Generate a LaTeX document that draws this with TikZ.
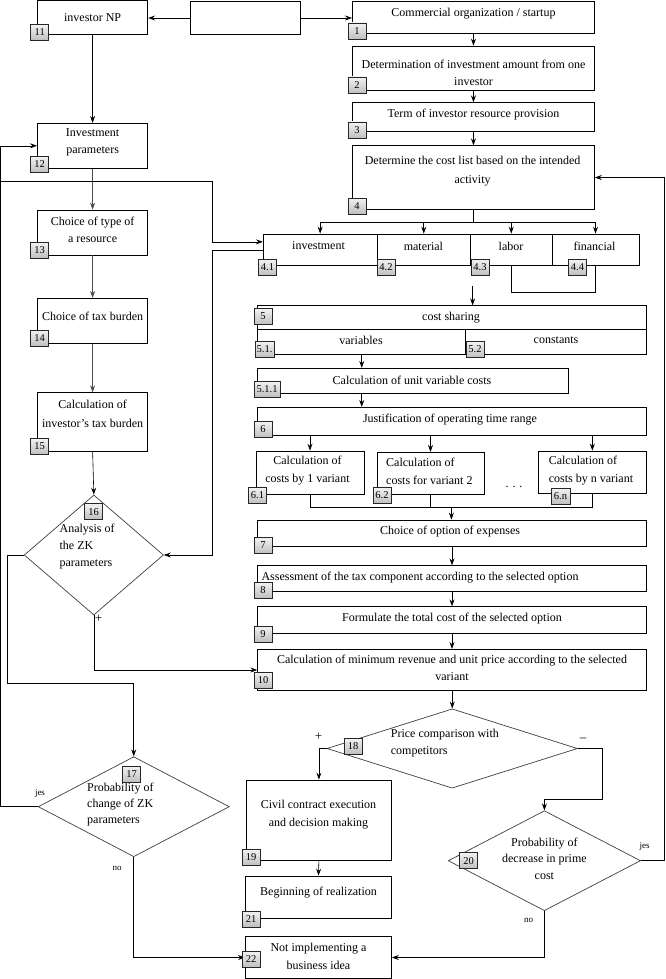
\documentclass[tikz,border=0pt]{standalone}
\usepackage{fontspec}
\setmainfont{Liberation Serif}
\usetikzlibrary{arrows.meta,shapes.geometric,fit,calc}
\begin{document}
\begin{tikzpicture}[x=1pt,y=-1pt,
  box/.style={draw=black, line width=0.8pt, inner sep=0pt},
  dia/.style={draw=black!75, line width=0.7pt, diamond, inner sep=0pt},
  txt/.style={inner sep=0pt, align=center, font=\fontsize{12}{17}\selectfont},
  txl/.style={inner sep=0pt, align=left, font=\fontsize{12}{17}\selectfont},
  small/.style={inner sep=0pt, font=\fontsize{9}{9}\selectfont},
  badge/.style={draw=black!85, line width=0.6pt, top color=gray!10, bottom color=gray!50,
    minimum width=18pt, minimum height=16pt, inner sep=0.5pt, font=\fontsize{10.5}{10.5}\selectfont},
  arr/.style={-{Stealth[length=7pt,width=5pt,inset=2.5pt]}, line width=0.6pt},
  ln/.style={line width=0.6pt}]
\useasboundingbox (0,0) rectangle (665,979);
\fill[white] (0,0) rectangle (665,979);

% ---------- boxes ----------
\node[box, fit={(37.4,0.5)(147.8,34.3)}] (b11) {};
\node[box, fit={(190,1.7)(300.6,34.3)}] (b0) {};
\node[box, fit={(352.4,1.7)(594.5,33.3)}] (b1) {};
\node[box, fit={(352.4,46)(594.5,90)}] (b2) {};
\node[box, fit={(352.4,102.7)(594.5,131)}] (b3) {};
\node[box, fit={(352.4,145.7)(594.5,209.3)}] (b4) {};
\node[box, fit={(37.4,123.3)(147.8,168.3)}] (b12) {};
\node[box, fit={(37.4,210)(147.8,255)}] (b13) {};
\node[box, fit={(37.4,298.3)(147.8,343.3)}] (b14) {};
\node[box, fit={(37.4,392.7)(147.8,451)}] (b15) {};
\node[box, fit={(263.3,234)(377,265.7)}] (b41) {};
\node[box, fit={(377,234)(470.5,265.7)}] (b42) {};
\node[box, fit={(470.5,234)(552,265.7)}] (b43) {};
\node[box, fit={(552,234)(639,265.7)}] (b44) {};
\node[box, fit={(257.7,305.7)(646.3,329.3)}] (b5) {};
\node[box, fit={(257.7,329.3)(465.8,354)}] (b51) {};
\node[box, fit={(465.8,329.3)(646.3,354)}] (b52) {};
\node[box, fit={(257.7,368.3)(568,393.3)}] (b511) {};
\node[box, fit={(257.7,407.3)(646.3,435)}] (b6) {};
\node[box, fit={(256,451)(364,494.3)}] (b61) {};
\node[box, fit={(377,452.3)(484,494.3)}] (b62) {};
\node[box, fit={(538.4,451)(646.3,493.3)}] (b6n) {};
\node[box, fit={(257.7,520)(646.3,546.7)}] (b7) {};
\node[box, fit={(257.7,565.7)(646.3,591.7)}] (b8) {};
\node[box, fit={(257.7,606.7)(646.3,633.3)}] (b9) {};
\node[box, fit={(257.7,649.3)(646.3,690.7)}] (b10) {};
\node[box, fit={(246.3,780)(391.5,860)}] (b19) {};
\node[box, fit={(245.4,876)(391.5,918.3)}] (b21) {};
\node[box, fit={(245.4,936.7)(391.5,978.3)}] (b22) {};

% ---------- diamonds ----------
\node[dia, minimum width=139.3pt, minimum height=120pt] (d16) at (93.85,555) {};
\node[dia, minimum width=191.1pt, minimum height=100pt] (d17) at (133.75,806.7) {};
\node[dia, minimum width=250.5pt, minimum height=79.3pt] (d18) at (452.2,748.5) {};
\node[dia, minimum width=192.3pt, minimum height=100pt] (d20) at (544.4,860.7) {};

% ---------- texts ----------
\node[txt] (t11) at (92.6,17.5) {investor NP};
\node[txt] (t1) at (473.5,14) {Commercial organization / startup};
\node[txt] (t2) at (473.5,72.5) {Determination of investment amount from one\\investor};
\node[txt] (t3) at (473.5,114.5) {Term of investor resource provision};
\node[txt, font=\fontsize{12}{19}\selectfont] (t4) at (472.6,171) {Determine the cost list based on the intended\\activity};
\node[txt] (t12) at (92.6,142) {Investment\\parameters};
\node[txt] (t13) at (92.6,230) {Choice of type of\\a resource};
\node[txt] (t14) at (92.6,316) {Choice of tax burden};
\node[txt, font=\fontsize{12}{19}\selectfont] (t15) at (92.6,414) {Calculation of\\investor's tax burden};
\node[txt] (t41) at (318.5,246) {investment};
\node[txt] (t42) at (423.4,246) {material};
\node[txt] (t43) at (511,246) {labor};
\node[txt] (t44) at (594.5,246) {financial};
\node[txt] (t5) at (451,317.5) {cost sharing};
\node[txt] (t51) at (361,340.5) {variables};
\node[txt] (t52) at (556,340.5) {constants};
\node[txt] (t511) at (412,380.5) {Calculation of unit variable costs};
\node[txt] (t6) at (450,419.5) {Justification of operating time range};
\node[txt, font=\fontsize{12}{18}\selectfont] (t61) at (307.5,471) {Calculation of\\costs by 1 variant};
\node[txl, font=\fontsize{12}{18}\selectfont, anchor=west] (t62) at (386,471) {Calculation of\\costs for variant 2};
\node[txl, font=\fontsize{12}{18}\selectfont, anchor=west] (t6n) at (548.6,471) {Calculation of\\costs by n variant};
\node[txt] (tdots) at (514,487) {.\,\,.\,\,.};
\node[txt] (t7) at (450,532) {Choice of option of expenses};
\node[txt] (t8) at (420,577.5) {Assessment of the tax component according to the selected option};
\node[txt] (t9) at (452,618.5) {Formulate the total cost of the selected option};
\node[txt] (t10) at (452,667.5) {Calculation of minimum revenue and unit price according to the selected\\variant};
\node[txt, font=\fontsize{12}{18}\selectfont] (t19) at (318.5,814.5) {Civil contract execution\\and decision making};
\node[txt] (t21) at (318.5,892.5) {Beginning of realization};
\node[txt, font=\fontsize{12}{18}\selectfont] (t22) at (318.5,956.5) {Not implementing a\\business idea};
\node[txl, anchor=west] (t16) at (59.4,546.5) {Analysis of\\the ZK\\parameters};
\node[txl, font=\fontsize{12}{16}\selectfont, anchor=west] (t17) at (87,804.5) {Probability of\\change of ZK\\parameters};
\node[txl, anchor=west] (t18) at (390.7,743) {Price comparison with\\competitors};
\node[txt, font=\fontsize{12}{16.5}\selectfont] (t20) at (544.4,858.5) {Probability of\\decrease in prime\\cost};

% small labels
\node[small] (ljes1) at (40,793) {jes};
\node[small] (lno1) at (117,868.5) {no};
\node[small] (ljes2) at (644.6,846.5) {jes};
\node[small] (lno2) at (528.7,920) {no};
\node[txt, font=\fontsize{13}{13}\selectfont] (lp16) at (98.5,618.5) {+};
\node[txt, font=\fontsize{13}{13}\selectfont] (lp18) at (318.5,736.5) {+};
\node[txt, font=\fontsize{13}{13}\selectfont] (lm18) at (583,740) {\textendash};

% ---------- connectors ----------
\draw[arr] (b0.west) -- (b0.west -| b11.east);
\draw[arr] (b0.east) -- (b0.east -| b1.west);
\draw[arr] (b1.south) -- (b2.north);
\draw[arr] (b2.south) -- (b3.north);
\draw[arr] (b3.south) -- (b4.north);
\draw[arr] (b11.south) -- (b12.north);
\draw[arr, draw=black!70] (b12.south) -- (b13.north);
\draw[arr, draw=black!70] (b13.south) -- (b14.north);
\draw[arr, draw=black!70] (b14.south) -- (b15.north);
\draw[arr] (b15.south) -- (d16.north);

\draw[ln] (b4.south) -- ++(0,13) coordinate (j4);
\draw[ln] (j4 -| b41.north) -- (j4 -| b44.north);
\draw[arr] (j4 -| b41.north) -- (b41.north);
\draw[arr] (j4 -| b42.north) -- (b42.north);
\draw[arr] (j4 -| b43.north) -- (b43.north);
\draw[arr] (j4 -| b44.north) -- (b44.north);
\draw[line width=0.8pt] (b43.south) -- ++(0,26) -| (b44.south);

\coordinate (c5) at (472.6,286);
\draw[arr] (c5) -- (c5 |- b5.north);
\draw[arr] (b51.south) -- (b51.south |- b511.north);
\draw[arr] (b51.south |- b511.south) -- (b51.south |- b6.north);
\draw[arr] (b61.north |- b6.south) -- (b61.north);
\draw[arr] (b62.north |- b6.south) -- (b62.north);
\draw[arr] (b6n.north |- b6.south) -- (b6n.north);

\coordinate (j6) at (451.4,507.3);
\draw[ln] (b61.south) -- (b61.south |- j6) -- (b6n.south |- j6) -- (b6n.south);
\draw[ln] (b62.south) -- (b62.south |- j6);
\draw[arr] (j6) -- (j6 |- b7.north);
\draw[arr] (b7.south) -- (b8.north);
\draw[arr] (b8.south -| b7.south) -- (b9.north -| b7.south);
\draw[arr] (b9.south -| b7.south) -- (b10.north -| b7.south);
\draw[arr] (b10.south -| d18.north) -- (d18.north);

% left feedback lines
\coordinate (lft) at (1,181.3);
\draw[arr] (d17.west) -- ++(-37.2,0) |- (b12.west);
\draw[arr] (lft) -- (212.3,181.3) |- ([yshift=8pt]b41.west);
\draw[arr] (b41.west) -- ++(-51,0) |- (d16.east);
\draw[arr] (d16.west) -- ++(-16.6,0) -- ++(0,128.3) -| (d17.north);
\draw[arr] (d16.south) |- (b10.west);

\draw[arr] (d18.west) -| (b19.north);
\draw[arr] (d18.east) -- ++(24.5,0) -- ++(0,50.7) -| (d20.north);
\draw[arr] (b19.south) -- (b21.north);
\draw[arr] (d17.south) |- (b22.west);
\draw[arr] (d20.south) |- (b22.east);
\draw[arr] (d20.east) -- ++(23.4,0) |- (b4.east);

% ---------- badges ----------
\node[badge] (n11) at (39.7,32.5) {11};
\node[badge] (n1) at (357,31) {1};
\node[badge] (n2) at (357,85) {2};
\node[badge] (n3) at (357,130) {3};
\node[badge] (n4) at (357,206) {4};
\node[badge] (n12) at (39.7,164.5) {12};
\node[badge] (n13) at (39.7,250) {13};
\node[badge] (n14) at (39.7,338) {14};
\node[badge] (n15) at (39.7,446.5) {15};
\node[badge] (n41) at (267.5,267) {4.1};
\node[badge] (n42) at (386,267) {4.2};
\node[badge] (n43) at (480,267) {4.3};
\node[badge] (n44) at (577.5,267) {4.4};
\node[badge] (n5) at (263,316.5) {5};
\node[badge, minimum width=19pt] (n51) at (264.5,349.5) {5.1.};
\node[badge] (n52) at (475,349.5) {5.2};
\node[badge, minimum width=26pt] (n511) at (267,389) {5.1.1};
\node[badge] (n6) at (263,429.5) {6};
\node[badge] (n61) at (257.5,495.5) {6.1};
\node[badge] (n62) at (382,495.5) {6.2};
\node[badge, minimum width=19pt] (n6n) at (560.5,496) {6.n};
\node[badge] (n7) at (263,545.5) {7};
\node[badge] (n8) at (263,590) {8};
\node[badge] (n9) at (263,634) {9};
\node[badge] (n10) at (263,680) {10};
\node[badge] (n16) at (93.5,511.7) {16};
\node[badge] (n17) at (131.5,774) {17};
\node[badge] (n18) at (353,746) {18};
\node[badge] (n19) at (251,857.5) {19};
\node[badge] (n20) at (468.5,860.7) {20};
\node[badge] (n21) at (251,919) {21};
\node[badge] (n22) at (251,959) {22};
\end{tikzpicture}
\end{document}
